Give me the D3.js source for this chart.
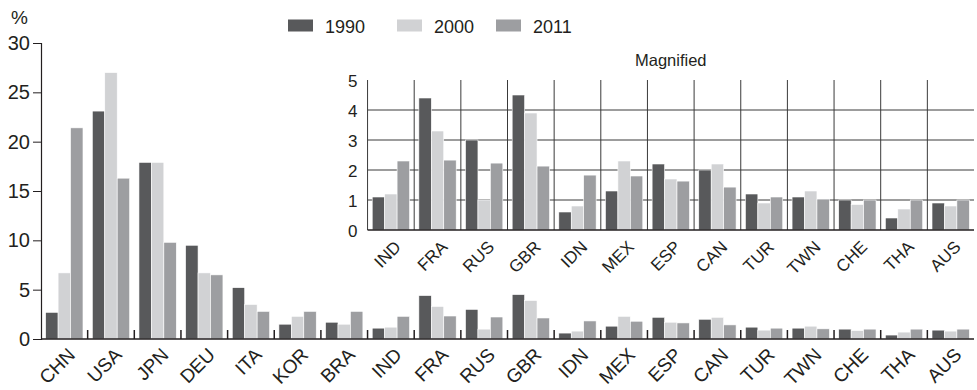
<!DOCTYPE html>
<html><head><meta charset="utf-8">
<script src="https://cdn.jsdelivr.net/npm/d3@7"></script>
<style>
body{margin:0;background:#fff}
text{font-family:"Liberation Sans",Arial,sans-serif;fill:#231f20}
</style></head>
<body><svg id="c" width="977" height="390"></svg>
<script>
const categories = ["CHN","USA","JPN","DEU","ITA","KOR","BRA","IND","FRA","RUS","GBR","IDN","MEX","ESP","CAN","TUR","TWN","CHE","THA","AUS"];
const series = ["1990","2000","2011"];
const v1990 = [2.7,23.1,17.9,9.5,5.2,1.5,1.7,1.1,4.4,3.0,4.5,0.6,1.3,2.2,2.0,1.2,1.1,1.0,0.4,0.9];
const v2000 = [6.7,27.0,17.9,6.7,3.5,2.3,1.5,1.2,3.3,1.0,3.9,0.8,2.3,1.7,2.2,0.9,1.3,0.85,0.7,0.8];
const v2011 = [21.4,16.3,9.8,6.5,2.8,2.8,2.8,2.3,2.33,2.23,2.13,1.83,1.8,1.63,1.43,1.1,1.03,1.0,1.0,1.0];
const insetCategories = ["IND","FRA","RUS","GBR","IDN","MEX","ESP","CAN","TUR","TWN","CHE","THA","AUS"];
const mainTicks = [0,5,10,15,20,25,30];
const insetTicks = [0,1,2,3,4,5];
const colors = ["#58595b","#d1d2d4","#9d9ea1"];
const values = [v1990, v2000, v2011];

const svg = d3.select("#c");
const x = d3.scaleBand().domain(categories).range([41, 974]).paddingInner(0.2).paddingOuter(0.1);
const xs = d3.scaleBand().domain(series).range([0, x.bandwidth()]);
const step = x.step();
const y = d3.scaleLinear().domain([0, 30]).range([339, 43]);
const yi = d3.scaleLinear().domain([0, 5]).range([230, 80]);
const boundary = c => x(c) - step * 0.1;

// main bars
const rows = categories.map((c, i) => ({c, vals: values.map(v => v[i])}));
const g = svg.append("g");
rows.forEach(r => {
  g.selectAll(null).data(series).join("rect")
    .attr("x", (s) => x(r.c) + xs(s))
    .attr("width", xs.bandwidth())
    .attr("y", (s, j) => y(r.vals[j]))
    .attr("height", (s, j) => y(0) - y(r.vals[j]))
    .attr("fill", (s, j) => colors[j])
    .attr("stroke", "#fff").attr("stroke-width", 0.6);
});

// main y axis
const ya = svg.append("g").attr("transform", "translate(41,0)")
  .call(d3.axisLeft(y).tickValues(mainTicks).tickSize(8).tickPadding(3));
ya.select(".domain").attr("stroke", "#231f20").attr("stroke-width", 1.2);
ya.selectAll(".tick line").attr("stroke", "#231f20");
ya.selectAll(".tick text").attr("font-size", 20).attr("font-family", "Liberation Sans, Arial").attr("fill", "#231f20");
svg.append("text").attr("x", 11).attr("y", 24).attr("font-size", 19).text("%");

// main x axis
svg.append("line").attr("x1", 41).attr("x2", 974).attr("y1", 339).attr("y2", 339)
  .attr("stroke", "#231f20").attr("stroke-width", 1.5);
svg.selectAll(".xt").data(categories.slice(1)).join("line").attr("class", "xt")
  .attr("x1", c => boundary(c)).attr("x2", c => boundary(c))
  .attr("y1", 330).attr("y2", 339).attr("stroke", "#231f20").attr("stroke-width", 1.5);
svg.append("g").selectAll("text").data(categories).join("text")
  .attr("transform", c => `translate(${x(c) + x.bandwidth() / 2 + 12},356) rotate(-45)`)
  .attr("text-anchor", "end").attr("font-size", 19).text(c => c);

// legend
const legX = [288, 397, 496];
series.forEach((s, j) => {
  svg.append("rect").attr("x", legX[j]).attr("y", 19.5).attr("width", 25).attr("height", 12).attr("fill", colors[j]);
  svg.append("text").attr("x", legX[j] + 37).attr("y", 33).attr("font-size", 18).text(s);
});

// inset
const ig = svg.append("g");
const x0 = boundary(insetCategories[0]);
const xEnd = 974;
ig.selectAll(".hg").data(insetTicks.filter(t => t > 0 && t < 5)).join("line")
  .attr("x1", x0).attr("x2", xEnd).attr("y1", d => yi(d)).attr("y2", d => yi(d))
  .attr("stroke", "#3a3a3a").attr("stroke-width", 1);
ig.selectAll(".vg").data(insetCategories).join("line")
  .attr("x1", c => boundary(c)).attr("x2", c => boundary(c))
  .attr("y1", yi(5)).attr("y2", yi(0)).attr("stroke", "#3a3a3a").attr("stroke-width", 1);
insetCategories.forEach(c => {
  const i = categories.indexOf(c);
  ig.selectAll(null).data(series).join("rect")
    .attr("x", s => x(c) + xs(s))
    .attr("width", xs.bandwidth())
    .attr("y", (s, j) => yi(values[j][i]))
    .attr("height", (s, j) => yi(0) - yi(values[j][i]))
    .attr("fill", (s, j) => colors[j])
    .attr("stroke", "#fff").attr("stroke-width", 0.6);
});
ig.append("line").attr("x1", x0).attr("x2", xEnd).attr("y1", yi(0)).attr("y2", yi(0))
  .attr("stroke", "#231f20").attr("stroke-width", 1.5);
ig.selectAll(".yl").data(insetTicks).join("text")
  .attr("x", x0 - 10).attr("y", d => yi(d)).attr("dy", "0.42em")
  .attr("text-anchor", "end").attr("font-size", 17).text(d => d);
ig.append("g").selectAll("text").data(insetCategories).join("text")
  .attr("transform", c => `translate(${x(c) + x.bandwidth() / 2 + 11},248) rotate(-45)`)
  .attr("text-anchor", "end").attr("font-size", 17).text(c => c);
ig.append("text").attr("x", (x0 + xEnd) / 2).attr("y", 66).attr("text-anchor", "middle")
  .attr("font-size", 16.5).text("Magnified");
</script></body></html>
